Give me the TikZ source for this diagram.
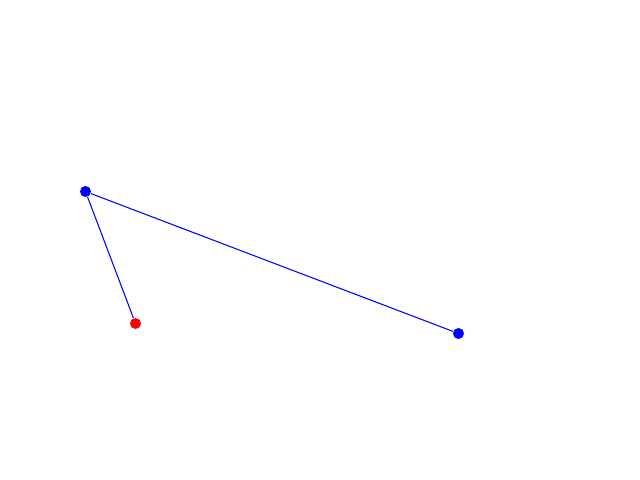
\documentclass[tikz,border=0pt]{standalone}
\begin{document}
\begin{tikzpicture}[x=0.02cm, y=-0.02cm]
      \tikzset{dot/.style={circle, inner sep=0pt, minimum size=0.22cm}}
      \useasboundingbox (0, 0) rectangle (640, 480);
      \node[dot, fill=blue] (P) at (85.5, 191.5) {};
      \node[dot, fill=red] (Q) at (135.5, 323.5) {};
      \node[dot, fill=blue] (S) at (458.5, 333.5) {};

      \draw[blue, line width=0.6pt] (P) -- (Q);
      \draw[blue, line width=0.6pt] (P) -- (S);
    \end{tikzpicture}
\end{document}
